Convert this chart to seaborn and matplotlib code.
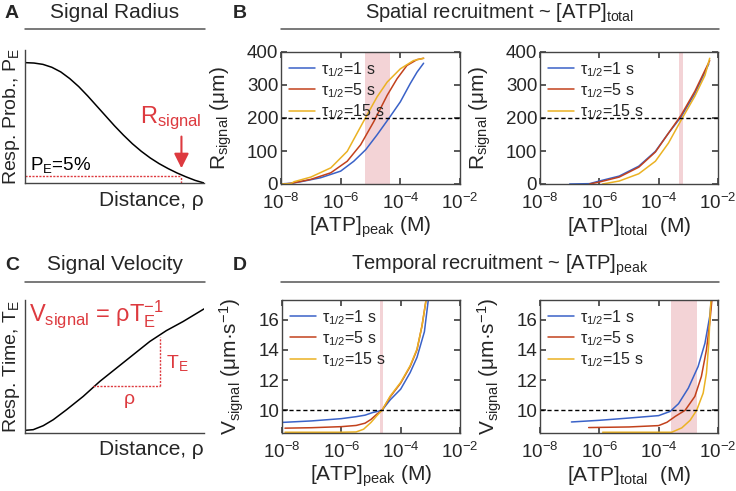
import numpy as np
import pandas as pd
import matplotlib
matplotlib.use("Agg")
import matplotlib.pyplot as plt
from matplotlib.lines import Line2D
import seaborn as sns

# ---- data ----
tau_labels = ["τ$_{1/2}$=1 s", "τ$_{1/2}$=5 s", "τ$_{1/2}$=15 s"]
tau_colors = ["#3a62c8", "#c2411c", "#ebb223"]

# schematic curves (axes fractions)
radius_x = [0, 0.05, 0.1, 0.15, 0.2, 0.25, 0.3, 0.35, 0.4, 0.45, 0.5,
            0.55, 0.6, 0.65, 0.7, 0.75, 0.8, 0.85, 0.9, 0.95, 1.0]
radius_p = [0.905, 0.902, 0.892, 0.87, 0.835, 0.785, 0.725, 0.655, 0.58, 0.505, 0.43,
            0.36, 0.295, 0.238, 0.188, 0.145, 0.108, 0.075, 0.046, 0.02, 0.0]
velocity_x = [0, 0.046, 0.102, 0.158, 0.232, 0.325, 0.418, 0.511, 0.604, 0.697, 0.79, 0.883, 1.0]
velocity_t = [0.02, 0.025, 0.055, 0.1, 0.175, 0.275, 0.388, 0.488, 0.588, 0.688, 0.77, 0.838, 0.933]

# B, left: R_signal vs log10 [ATP]peak
b1_logx = [
    [-7.9, -7.67, -7.33, -6.67, -6.0, -5.56, -5.16, -4.78, -4.36, -4.0, -3.67, -3.44, -3.22],
    [-7.9, -7.67, -7.0, -6.33, -5.78, -5.33, -4.89, -4.44, -4.11, -3.78, -3.44, -3.22],
    [-8.0, -7.67, -7.56, -7.0, -6.33, -5.78, -5.16, -4.78, -4.44, -4.0, -3.56, -3.22],
]
b1_r = [
    [1, 2, 7, 19, 39, 69, 104, 149, 202, 249, 304, 339, 366],
    [0, 2, 14, 34, 69, 119, 189, 269, 319, 359, 377, 381],
    [0, 1, 7, 21, 49, 99, 202, 264, 309, 349, 374, 381],
]
b1_band = (-5.17, -4.36)

# B, right: R_signal vs log10 [ATP]total
b2_logx = [
    [-7.0, -6.33, -6.0, -5.33, -4.67, -4.11, -3.67, -3.24, -2.78, -2.31],
    [-6.33, -6.0, -5.33, -4.67, -4.11, -3.67, -3.24, -2.78, -2.28],
    [-5.89, -5.33, -4.67, -4.11, -3.67, -3.24, -2.78, -2.44, -2.28],
]
b2_r = [
    [0, 1, 9, 24, 54, 99, 154, 204, 274, 364],
    [0, 6, 21, 51, 97, 154, 209, 281, 374],
    [0, 9, 31, 69, 124, 194, 266, 329, 381],
]
b2_band = (-3.30, -3.17)

# D, left: V_signal vs log10 [ATP]peak
d1_logx = [
    [-8.0, -7.0, -6.0, -5.5, -5.2, -4.95, -4.63, -4.35, -4.0, -3.68, -3.45, -3.2, -3.05],
    [-7.9, -7.0, -6.0, -5.5, -5.2, -5.0, -4.8, -4.63, -4.35, -4.0, -3.68, -3.45, -3.28, -3.12],
    [-7.9, -7.0, -6.0, -5.5, -5.25, -5.0, -4.8, -4.63, -4.35, -4.0, -3.68, -3.45, -3.28, -3.12],
]
d1_v = [
    [9.2, 9.3, 9.45, 9.58, 9.68, 9.85, 10.0, 10.7, 11.4, 12.5, 13.5, 15.2, 17.6],
    [8.82, 8.85, 8.92, 9.0, 9.15, 9.4, 9.75, 10.0, 10.9, 11.8, 12.9, 14.0, 15.6, 17.6],
    [8.55, 8.55, 8.55, 8.57, 8.75, 9.2, 9.65, 10.0, 10.95, 11.85, 12.95, 14.05, 15.6, 17.6],
]
d1_band = (-4.68, -4.59)

# D, right: V_signal vs log10 [ATP]total
d2_logx = [
    [-6.94, -6.0, -5.0, -4.0, -3.61, -3.33, -3.0, -2.67, -2.44, -2.28, -2.22],
    [-6.36, -5.0, -4.0, -3.72, -3.44, -3.11, -2.78, -2.56, -2.39, -2.28, -2.2],
    [-5.89, -3.56, -3.22, -2.94, -2.72, -2.5, -2.39, -2.31, -2.26, -2.23],
]
d2_v = [
    [9.23, 9.34, 9.49, 9.65, 9.93, 10.44, 11.47, 12.9, 14.44, 16.2, 17.4],
    [8.86, 8.9, 8.99, 9.21, 9.6, 10.0, 10.92, 12.24, 14.0, 15.76, 17.4],
    [8.55, 8.55, 8.84, 9.34, 10.0, 11.14, 12.46, 14.44, 16.64, 17.4],
]
d2_band = (-3.58, -2.72)

# ---- style ----
sns.set_theme(style="ticks")
plt.rcParams["font.family"] = ["Liberation Sans", "DejaVu Sans"]
plt.rcParams["mathtext.fontset"] = "custom"
plt.rcParams["mathtext.rm"] = "Liberation Sans"
plt.rcParams["mathtext.it"] = "Liberation Sans:italic"
plt.rcParams["mathtext.bf"] = "Liberation Sans:bold"
plt.rcParams["mathtext.default"] = "regular"

RED = "#dd3a3f"
SPINE = "#444444"
W, H = 736, 491


def box(l, t, r, b):
    return [l / W, 1 - b / H, (r - l) / W, (b - t) / H]


fig = plt.figure(figsize=(7.36, 4.91), dpi=100)

# section titles, letters and rules
for letter, lx, ly in [("A", 5, 13), ("B", 233, 13), ("C", 5, 265), ("D", 233, 265)]:
    fig.text(lx / W, 1 - ly / H, letter, fontsize=14, fontweight="bold", va="center")
fig.text(115 / W, 1 - 13 / H, "Signal Radius", fontsize=15, ha="center", va="center")
fig.text(115 / W, 1 - 265 / H, "Signal Velocity", fontsize=15, ha="center", va="center")
fig.text(500 / W, 1 - 13 / H, "Spatial recruitment ~ [ATP]$_{total}$", fontsize=14.5, ha="center", va="center")
fig.text(500 / W, 1 - 265 / H, "Temporal recruitment ~ [ATP]$_{peak}$", fontsize=14.5, ha="center", va="center")
for x0, x1, y in [(25, 205, 28.5), (281, 719, 28.5), (25, 205, 282), (281, 719, 282)]:
    fig.add_artist(Line2D([x0 / W, x1 / W], [1 - y / H, 1 - y / H], transform=fig.transFigure,
                          color="#555555", lw=1.1))


def schematic(ax, xs, ys, ylabel, xpad):
    sns.lineplot(x=xs, y=ys, ax=ax, color="black", lw=1.1)
    ax.set_xlim(0, 1)
    ax.set_ylim(0, 1)
    ax.set_xticks([])
    ax.set_yticks([])
    sns.despine(ax=ax)
    for s in ["left", "bottom"]:
        ax.spines[s].set_color(SPINE)
        ax.spines[s].set_linewidth(1.0)
    ax.set_xlabel("Distance, ρ", fontsize=15, loc="right", labelpad=xpad)
    ax.set_ylabel(ylabel, fontsize=14, labelpad=2)


# ---- A ----
axA = fig.add_axes(box(25, 50, 204, 183))
schematic(axA, radius_x, radius_p, "Resp. Prob., P$_{E}$", 6)
r_x, p5 = 0.874, 0.055
axA.plot([0, r_x], [p5, p5], color=RED, ls=(0, (1.5, 1)), lw=1)
axA.plot([r_x, r_x], [0, p5], color=RED, ls=(0, (1.5, 1)), lw=1)
axA.annotate("", xy=(r_x, 0.09), xytext=(r_x, 0.37),
             arrowprops=dict(arrowstyle="-|>", color=RED, lw=1.5, mutation_scale=22))
axA.text(0.64, 0.45, "R$_{signal}$", color=RED, fontsize=17, va="baseline")
axA.text(0.03, 0.095, "P$_{E}$=5%", color="black", fontsize=13.5, va="baseline")

# ---- C ----
axC = fig.add_axes(box(25, 300, 204, 433))
schematic(axC, velocity_x, velocity_t, "Resp. Time, T$_{E}$", 5)
tri_x0, tri_x1, tri_y0, tri_y1 = 0.38, 0.753, 0.35, 0.725
axC.plot([tri_x0, tri_x1], [tri_y0, tri_y0], color=RED, ls=(0, (1.5, 1)), lw=1)
axC.plot([tri_x1, tri_x1], [tri_y0, tri_y1], color=RED, ls=(0, (1.5, 1)), lw=1)
axC.text(0.02, 0.84, "V$_{signal}$ = ρT$_{E}^{-1}$", color=RED, fontsize=17, va="baseline")
axC.text(0.585, 0.25, "ρ", color=RED, fontsize=14, ha="center", va="center")
axC.text(0.79, 0.53, "T$_{E}$", color=RED, fontsize=14, va="center")


def recruit(ax, logxs, ys, band, ref, ylim, yticks, ylabel, xlabel):
    ax.axvspan(10 ** band[0], 10 ** band[1], color="#f3d3d6", lw=0, zorder=0)
    for lx, yv, c, lab in zip(logxs, ys, tau_colors, tau_labels):
        df = pd.DataFrame({"atp": np.power(10.0, lx), "val": yv})
        sns.lineplot(data=df, x="atp", y="val", ax=ax, color=c, lw=1.1, label=lab)
    ax.axhline(ref, color="black", ls=(0, (3, 2)), lw=1)
    ax.set_xscale("log")
    ax.set_xlim(1e-8, 1e-2)
    ax.set_xticks([1e-8, 1e-6, 1e-4, 1e-2])
    ax.set_ylim(*ylim)
    ax.set_yticks(yticks)
    ax.tick_params(which="both", direction="in", top=True, right=True, color=SPINE,
                   labelsize=13.5)
    ax.tick_params(axis="x", pad=6.5)
    ax.tick_params(axis="y", pad=2)
    ax.tick_params(which="major", length=4)
    ax.tick_params(which="minor", length=2)
    for s in ax.spines.values():
        s.set_color(SPINE)
        s.set_linewidth(1.0)
    ax.set_xlabel(xlabel, fontsize=15, labelpad=1)
    ax.set_ylabel(ylabel, fontsize=15, labelpad=9)
    ax.legend(loc="upper left", frameon=False, fontsize=11.5, handlelength=1.6,
              handletextpad=0.4, labelspacing=0.15, borderaxespad=0.3, borderpad=0.2)


r_lab = "R$_{signal}$ (μm)"
v_lab = "V$_{signal}$ (μm·s$^{-1}$)"
axB1 = fig.add_axes(box(281, 52, 460, 184))
recruit(axB1, b1_logx, b1_r, b1_band, 200, (0, 400), [0, 100, 200, 300, 400], r_lab,
        "[ATP]$_{peak}$ (M)")
axB2 = fig.add_axes(box(540, 52, 718, 184))
recruit(axB2, b2_logx, b2_r, b2_band, 200, (0, 400), [0, 100, 200, 300, 400], r_lab,
        "[ATP]$_{total}$  (M)")
axD1 = fig.add_axes(box(282, 300, 460, 433))
recruit(axD1, d1_logx, d1_v, d1_band, 10, (8.5, 17.3), [10, 12, 14, 16], v_lab,
        "[ATP]$_{peak}$ (M)")
axD2 = fig.add_axes(box(540, 300, 718, 433))
recruit(axD2, d2_logx, d2_v, d2_band, 10, (8.5, 17.3), [10, 12, 14, 16], v_lab,
        "[ATP]$_{total}$  (M)")

fig.savefig("out.png", dpi=100)
